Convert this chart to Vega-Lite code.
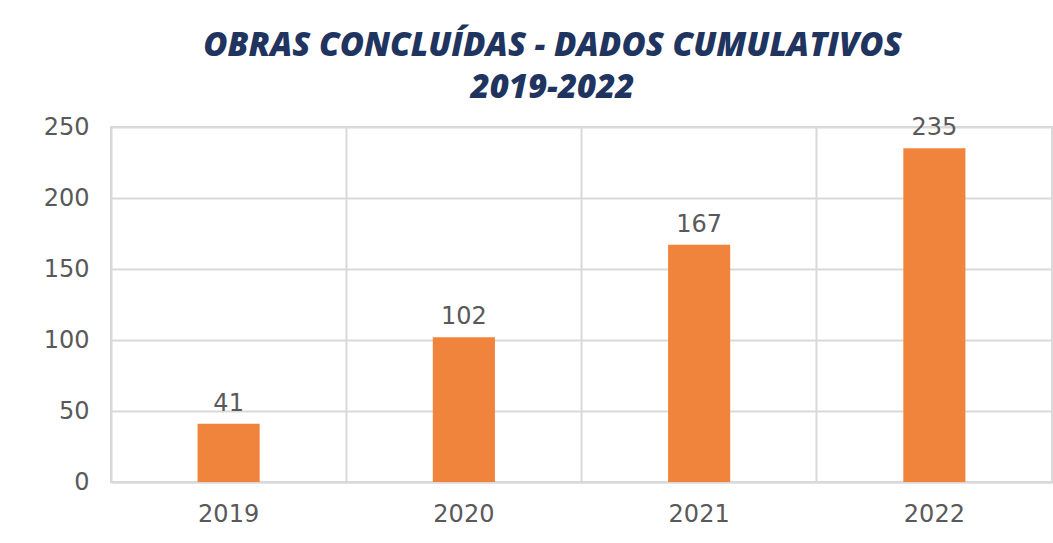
{
  "$schema": "https://vega.github.io/schema/vega-lite/v6.json",
  "width": 941,
  "height": 355,
  "autosize": {"type": "none"},
  "padding": {"left": 111, "top": 127, "right": 1, "bottom": 61},
  "background": "white",
  "title": {
    "text": ["OBRAS CONCLUÍDAS - DADOS CUMULATIVOS", "2019-2022"],
    "font": "Open Sans",
    "fontSize": 33,
    "fontWeight": 800,
    "fontStyle": "italic",
    "color": "#1F3560",
    "anchor": "middle",
    "frame": "group",
    "dx": -29,
    "offset": 10,
    "lineHeight": 42
  },
  "data": {
    "values": [
      {"ano": "2019", "obras": 41},
      {"ano": "2020", "obras": 102},
      {"ano": "2021", "obras": 167},
      {"ano": "2022", "obras": 235}
    ]
  },
  "layer": [
    {
      "mark": {"type": "bar", "color": "#F0843C", "width": {"band": 0.264}},
      "encoding": {
        "x": {
          "field": "ano", "type": "nominal",
          "scale": {"paddingInner": 0, "paddingOuter": 0},
          "axis": {
            "title": null, "orient": "bottom", "labelAngle": 0,
            "labelFont": "DejaVu Sans", "labelFontSize": 24, "labelColor": "#595959",
            "labelPadding": 20, "ticks": false, "grid": false,
            "domainColor": "#D9D9D9", "domainWidth": 2
          }
        },
        "y": {
          "field": "obras", "type": "quantitative",
          "scale": {"domain": [0, 250], "nice": false},
          "axis": {
            "title": null, "values": [0, 50, 100, 150, 200, 250],
            "labelFont": "DejaVu Sans", "labelFontSize": 24, "labelColor": "#595959",
            "labelPadding": 22, "ticks": false, "domain": false,
            "grid": true, "gridColor": "#D9D9D9", "gridWidth": 2
          }
        }
      }
    },
    {
      "mark": {"type": "text", "font": "DejaVu Sans", "fontSize": 24, "color": "#595959", "baseline": "alphabetic", "dy": -13},
      "encoding": {
        "x": {
          "field": "ano", "type": "nominal",
          "axis": {
            "title": null, "orient": "top", "bandPosition": 0,
            "labels": false, "ticks": false, "domain": false,
            "grid": true, "gridColor": "#D9D9D9", "gridWidth": 2
          }
        },
        "y": {"field": "obras", "type": "quantitative"},
        "text": {"field": "obras", "type": "quantitative"}
      }
    }
  ],
  "resolve": {"axis": {"x": "independent"}},
  "config": {"view": {"stroke": "#D9D9D9", "strokeWidth": 2}}
}
